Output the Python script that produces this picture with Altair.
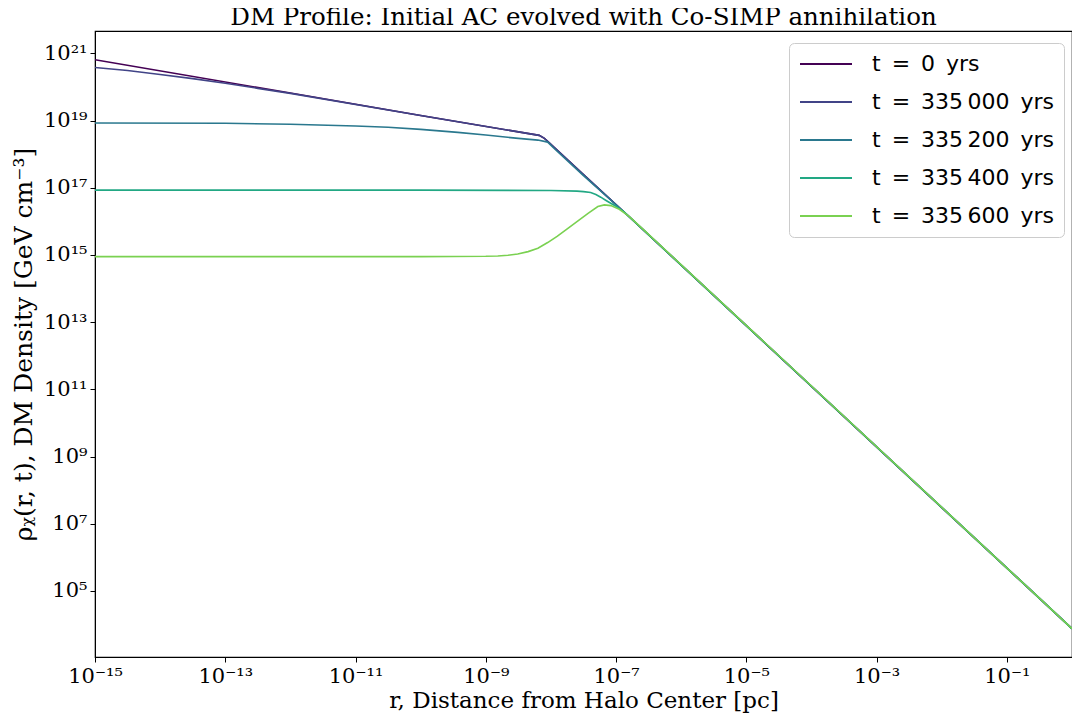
import altair as alt
import pandas as pd

# ---- data (log10 values) ----
series_labels = ["t\u2002=\u20020\u2002yrs",
                 "t\u2002=\u2002335\u2009000\u2002yrs",
                 "t\u2002=\u2002335\u2009200\u2002yrs",
                 "t\u2002=\u2002335\u2009400\u2002yrs",
                 "t\u2002=\u2002335\u2009600\u2002yrs"]
series_colors = ["#440154", "#414487", "#2a788e", "#22a884", "#7ad151"]

logr_t0 = [-15, -12, -10, -8.18, -8.10, -8.025, -7.5, -6.877, -4, -2, 0]
logrho_t0 = [20.81, 19.82, 19.15, 18.56, 18.47, 18.34, 17.39, 16.28, 11.09, 7.48, 3.88]

logr_t1 = [-15, -14.5, -14, -13.5, -13, -12.5, -12, -10, -8.18, -8.10, -8.025, -7.5, -6.877, 0]
logrho_t1 = [20.58, 20.49, 20.37, 20.25, 20.11, 19.96, 19.81, 19.15, 18.56, 18.47, 18.34, 17.39, 16.28, 3.88]

logr_t2 = [-15, -13, -12, -11, -10.5, -10, -9.43, -9, -8.5, -8.2, -8.05, -7.95, -7.5, -6.877, 0]
logrho_t2 = [18.93, 18.92, 18.89, 18.84, 18.80, 18.74, 18.65, 18.57, 18.47, 18.42, 18.36, 18.17, 17.36, 16.28, 3.88]

logr_t3 = [-15, -10, -8, -7.6, -7.5, -7.39, -7.31, -7.235, -7.16, -7.082, -7.0, -6.93, -6.877, 0]
logrho_t3 = [16.93, 16.93, 16.92, 16.90, 16.885, 16.86, 16.80, 16.72, 16.63, 16.54, 16.45, 16.36, 16.28, 3.88]

logr_t4 = [-15, -10, -9, -8.816, -8.66, -8.51, -8.35, -8.20, -8.05, -7.90, -7.75, -7.59,
           -7.43, -7.28, -7.18, -7.08, -6.95, -6.80, -6.6, 0]
logrho_t4 = [14.95, 14.95, 14.96, 14.97, 14.99, 15.03, 15.10, 15.20, 15.37, 15.56, 15.78, 16.01,
             16.24, 16.44, 16.49, 16.47, 16.36, 16.15, 15.79, 3.88]

x_tick_values = [1e-15, 1e-13, 1e-11, 1e-9, 1e-7, 1e-5, 1e-3, 1e-1]
x_tick_exps = [-15, -13, -11, -9, -7, -5, -3, -1]
x_tick_labels = ["10⁻¹⁵", "10⁻¹³", "10⁻¹¹", "10⁻⁹", "10⁻⁷", "10⁻⁵", "10⁻³", "10⁻¹"]
y_tick_values = [1e5, 1e7, 1e9, 1e11, 1e13, 1e15, 1e17, 1e19, 1e21]
y_tick_exps = [5, 7, 9, 11, 13, 15, 17, 19, 21]
y_tick_labels = ["10⁵", "10⁷", "10⁹", "10¹¹", "10¹³", "10¹⁵", "10¹⁷", "10¹⁹", "10²¹"]

x_domain = [1e-15, 1.0]
y_domain = [10 ** 3.033, 10 ** 21.667]

rows = []
for lab, lr, lrho in zip(series_labels,
                         [logr_t0, logr_t1, logr_t2, logr_t3, logr_t4],
                         [logrho_t0, logrho_t1, logrho_t2, logrho_t3, logrho_t4]):
    for a, b in zip(lr, lrho):
        rows.append({"series": lab, "r": 10 ** a, "rho": 10 ** b})
df = pd.DataFrame(rows)


def label_expr(exps, labels):
    expr = "''"
    for e, l in reversed(list(zip(exps, labels))):
        expr = f"(round(log(datum.value)/LN10) == {e}) ? '{l}' : {expr}"
    return expr


axis_common = dict(
    grid=False, domainColor="black", tickColor="black", tickSize=5,
    labelFont="DejaVu Serif", labelFontSize=21, labelColor="black",
    titleFont="DejaVu Serif", titleFontWeight="normal", titleColor="black",
)

chart = alt.Chart(df).mark_line(strokeWidth=1.6, clip=True).encode(
    x=alt.X("r:Q",
            scale=alt.Scale(type="log", domain=x_domain, nice=False),
            axis=alt.Axis(values=x_tick_values,
                          labelExpr=label_expr(x_tick_exps, x_tick_labels),
                          title="r, Distance from Halo Center [pc]",
                          titleFontSize=23,
                          labelPadding=3, titlePadding=3, labelFlush=False,
                          **axis_common)),
    y=alt.Y("rho:Q",
            scale=alt.Scale(type="log", domain=y_domain, nice=False),
            axis=alt.Axis(values=y_tick_values,
                          labelExpr=label_expr(y_tick_exps, y_tick_labels),
                          title="ρᵪ(r, t), DM Density [GeV cm⁻³]",
                          titleFontSize=25,
                          labelPadding=3, titlePadding=7,
                          **axis_common)),
    color=alt.Color("series:N",
                    scale=alt.Scale(domain=series_labels, range=series_colors),
                    sort=series_labels,
                    legend=alt.Legend(
                        title=None, orient="none", legendX=694, legendY=12,
                        fillColor="white", strokeColor="#cccccc",
                        cornerRadius=5, padding=10,
                        labelFont="DejaVu Sans", labelFontSize=22,
                        labelColor="black", labelOffset=51, labelLimit=400,
                        symbolType="M-1,0H4.2", symbolSize=400,
                        symbolStrokeWidth=2, symbolFillColor="transparent",
                        rowPadding=16,
                    )),
).properties(
    width=977, height=626,
    title=alt.TitleParams("DM Profile: Initial AC evolved with Co-SIMP annihilation",
                          font="DejaVu Serif", fontSize=24.5, fontWeight="normal",
                          color="black", anchor="middle", frame="group", offset=1),
    autosize=alt.AutoSizeParams(type="none"),
    padding={"left": 87, "top": 23, "right": 0, "bottom": 58},
).configure_view(stroke="black", strokeWidth=1.2)

chart.save("out.html", embed_options={"renderer": "svg", "actions": False})
